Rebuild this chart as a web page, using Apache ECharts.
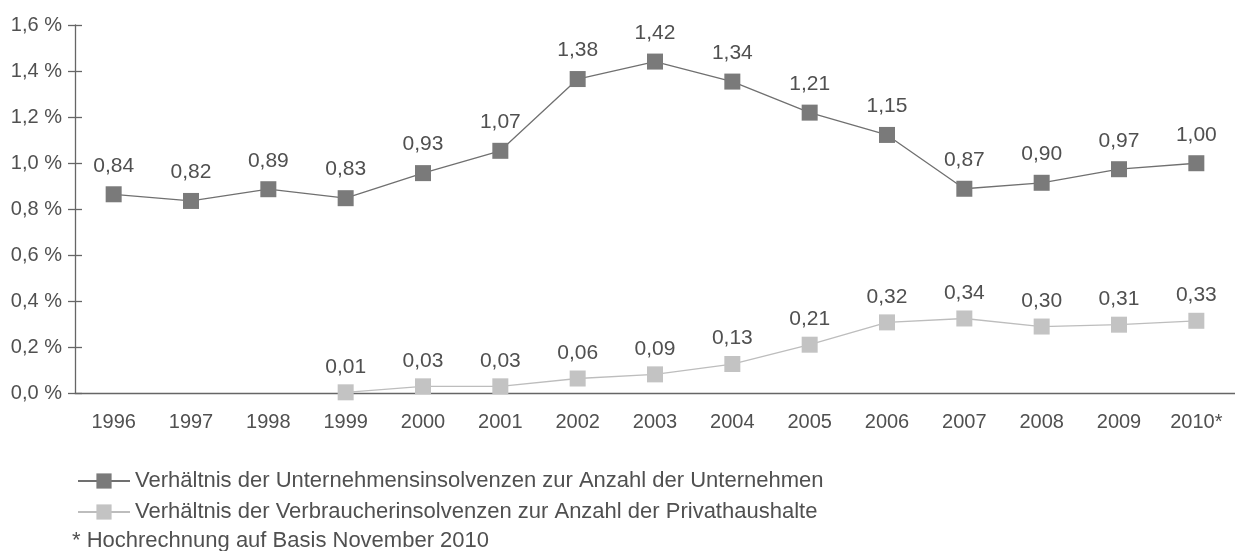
<!DOCTYPE html>
<html>
<meta charset="utf-8">
<body style="margin:0;background:#fff">
    <div id="main" style="width:1235px;height:551px;"></div>
</body>
</html>
<script type="text/javascript" src="https://cdn.jsdelivr.net/npm/echarts@6/dist/echarts.min.js"></script>
<script type="text/javascript">

var years = ['1996','1997','1998','1999','2000','2001','2002','2003','2004','2005','2006','2007','2008','2009','2010*'];

// Unternehmensinsolvenzen: Lage der Punkte im Bild und die beschrifteten Werte
var firmVals   = [0.864,0.835,0.886,0.847,0.956,1.053,1.365,1.441,1.354,1.219,1.122,0.888,0.914,0.973,0.999];
var firmLabels = ['0,84','0,82','0,89','0,83','0,93','1,07','1,38','1,42','1,34','1,21','1,15','0,87','0,90','0,97','1,00'];

// Verbraucherinsolvenzen
var consVals   = [null,null,null,0.003,0.029,0.029,0.063,0.081,0.126,0.210,0.307,0.324,0.289,0.297,0.314];
var consLabels = ['','','','0,01','0,03','0,03','0,06','0,09','0,13','0,21','0,32','0,34','0,30','0,31','0,33'];

var seriesNames = [
    'Verhältnis der Unternehmensinsolvenzen zur Anzahl der Unternehmen',
    'Verhältnis der Verbraucherinsolvenzen zur Anzahl der Privathaushalte'
];
var footnote = '* Hochrechnung auf Basis November 2010';

var textColor = '#505050';
var axisColor = '#666666';
var font = 'Liberation Sans';

function initEch(dom){
    var myChart = echarts.init(document.getElementById(dom));
    var option = {
        animation: false,
        textStyle: { fontFamily: font },
        grid: { left: 75, top: 25, width: 1166, height: 368 },
        legend: {
            orient: 'vertical',
            left: 72,
            top: 465,
            itemWidth: 52,
            itemHeight: 19,
            itemGap: 9,
            data: seriesNames,
            textStyle: { color: textColor, fontSize: 22, fontFamily: font }
        },
        graphic: [{
            type: 'text',
            left: 72,
            top: 530,
            style: { text: footnote, fill: textColor, fontSize: 22, fontFamily: font }
        }],
        xAxis: {
            type: 'category',
            data: years,
            boundaryGap: true,
            axisLine: { lineStyle: { color: axisColor, width: 1.3 } },
            axisTick: { inside: true, length: 12, lineStyle: { color: axisColor, width: 1.3 } },
            axisLabel: { color: textColor, fontSize: 20, margin: 19, fontFamily: font }
        },
        yAxis: [{
            type: 'value',
            min: 0, max: 1.6, interval: 0.2,
            splitLine: { show: false },
            axisLine: { show: true, lineStyle: { color: axisColor, width: 1.3 } },
            axisTick: { show: true, length: 7, lineStyle: { color: axisColor, width: 1.3 } },
            axisLabel: {
                color: textColor, fontSize: 20, margin: 13, fontFamily: font,
                formatter: function(v){ return v.toFixed(1).replace('.', ',') + ' %'; }
            }
        }, {
            type: 'value',
            position: 'left',
            min: 0, max: 1.6, interval: 0.2,
            splitLine: { show: false },
            axisLine: { show: false },
            axisTick: { show: true, inside: true, length: 7, lineStyle: { color: axisColor, width: 1.3 } },
            axisLabel: { show: false }
        }],
        series: [{
            name: seriesNames[0],
            type: 'line',
            data: firmVals,
            symbol: 'rect',
            symbolSize: 16,
            lineStyle: { color: '#707070', width: 1.3 },
            itemStyle: { color: '#7a7a7a' },
            label: {
                show: true, position: 'top', distance: 10,
                color: textColor, fontSize: 21, fontFamily: font,
                formatter: function(p){ return firmLabels[p.dataIndex]; }
            },
            z: 3
        }, {
            name: seriesNames[1],
            type: 'line',
            data: consVals,
            symbol: 'rect',
            symbolSize: 16,
            lineStyle: { color: '#bdbdbd', width: 1.3 },
            itemStyle: { color: '#c3c3c3' },
            label: {
                show: true, position: 'top', distance: 7,
                color: textColor, fontSize: 21, fontFamily: font,
                formatter: function(p){ return consLabels[p.dataIndex]; }
            },
            z: 3
        }]
    };
    myChart.setOption(option);
}

initEch('main');
</script>
